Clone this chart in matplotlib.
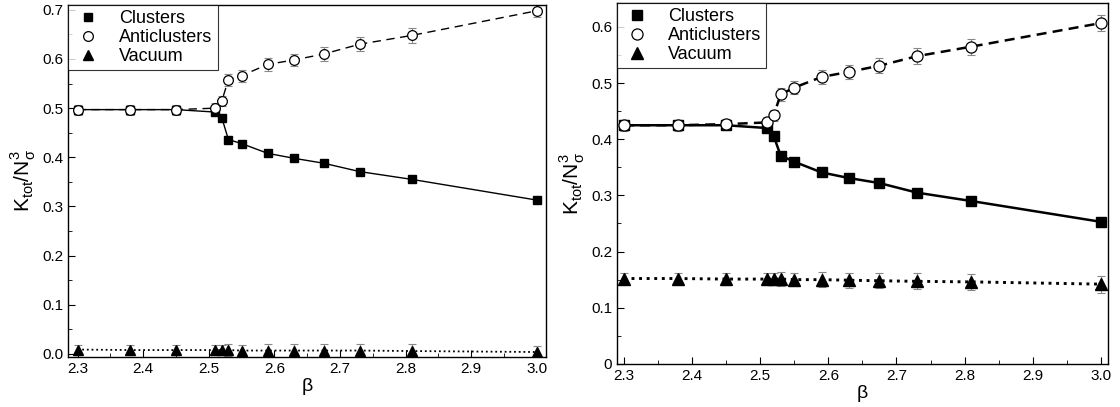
import numpy as np
import matplotlib
matplotlib.use("Agg")
import matplotlib.pyplot as plt
from matplotlib.ticker import MultipleLocator, FormatStrFormatter

plt.rcParams['font.family'] = ['Liberation Sans', 'DejaVu Sans']

# beta values (same for both panels)
beta = [2.30, 2.38, 2.45, 2.51, 2.52, 2.53, 2.55, 2.59, 2.63, 2.675, 2.73, 2.81, 3.00]

# left panel
left_clusters = [0.497, 0.497, 0.497, 0.492, 0.480, 0.436, 0.428, 0.408, 0.398, 0.388, 0.371, 0.355, 0.313]
left_anti = [0.497, 0.497, 0.497, 0.500, 0.515, 0.558, 0.566, 0.589, 0.598, 0.610, 0.630, 0.648, 0.698]
left_vac = [0.009, 0.008, 0.008, 0.008, 0.008, 0.008, 0.007, 0.007, 0.007, 0.007, 0.007, 0.006, 0.004]
left_err = [0.010, 0.010, 0.010, 0.010, 0.010, 0.012, 0.012, 0.013, 0.013, 0.014, 0.014, 0.015, 0.012]

# right panel
right_clusters = [0.425, 0.425, 0.425, 0.420, 0.405, 0.371, 0.360, 0.341, 0.331, 0.322, 0.305, 0.290, 0.253]
right_anti = [0.425, 0.425, 0.427, 0.430, 0.443, 0.480, 0.492, 0.511, 0.520, 0.531, 0.548, 0.565, 0.607]
right_vac = [0.152, 0.152, 0.151, 0.151, 0.151, 0.151, 0.150, 0.150, 0.149, 0.148, 0.147, 0.146, 0.142]
right_err = [0.010, 0.010, 0.010, 0.010, 0.010, 0.012, 0.012, 0.013, 0.013, 0.013, 0.014, 0.014, 0.015]

fig = plt.figure(figsize=(11.2, 4.07), dpi=100)
ax1 = fig.add_axes([0.061, 0.123, 0.4265, 0.865])
ax2 = fig.add_axes([0.551, 0.106, 0.438, 0.887])

ecol = '#888888'

def panel(ax, cl, an, va, err, lw, ms_sq, ms_c, dash):
    ax.errorbar(beta, an, yerr=err, fmt='none', ecolor=ecol, elinewidth=0.8, capsize=3, capthick=0.8, zorder=1)
    ax.errorbar(beta, va, yerr=err, fmt='none', ecolor=ecol, elinewidth=0.8, capsize=3, capthick=0.8, zorder=1)
    ax.plot(beta, cl, '-', color='black', lw=lw, marker='s', ms=ms_sq, mfc='black', mec='black', label='Clusters', zorder=3)
    ax.plot(beta, an, color='black', lw=lw, ls=(0, dash), marker='o', ms=ms_c, mfc='white', mec='black', mew=0.9, label='Anticlusters', zorder=4)
    ax.plot(beta, va, color='black', lw=lw + 0.3, ls=(0, (1, 1.6)), marker='^', ms=ms_sq + 1, mfc='black', mec='black', label='Vacuum', zorder=3)
    ax.xaxis.set_major_locator(MultipleLocator(0.1))
    ax.xaxis.set_minor_locator(MultipleLocator(0.05))
    ax.yaxis.set_major_locator(MultipleLocator(0.1))
    ax.yaxis.set_minor_locator(MultipleLocator(0.05))
    ax.xaxis.set_major_formatter(FormatStrFormatter('%.1f'))
    ax.tick_params(which='both', direction='in', top=False, right=False, labelsize=11)
    ax.tick_params(which='major', length=5)
    ax.tick_params(which='minor', length=3)
    ax.set_xlabel(r'$\mathregular{\beta}$', fontsize=14, labelpad=0)
    ax.set_ylabel(r'K$_{\mathregular{tot}}$/N$_{\mathregular{\sigma}}^{\mathregular{3}}$', fontsize=15, labelpad=3)
    leg = ax.legend(loc='upper left', fontsize=13, frameon=True, fancybox=False, edgecolor='black',
                    borderaxespad=0, handlelength=1.6, handletextpad=0.9, labelspacing=0.1, borderpad=0.3)
    leg.get_frame().set_linewidth(0.8)
    for h in leg.legend_handles:
        h.set_linestyle('none')
    for s in ax.spines.values():
        s.set_linewidth(1.0)

panel(ax1, left_clusters, left_anti, left_vac, left_err, 1.0, 6, 7, (6, 4))
ax1.set_xlim(2.286, 3.014)
ax1.set_ylim(-0.006, 0.71)
ax1.yaxis.set_major_formatter(FormatStrFormatter('%.1f'))

panel(ax2, right_clusters, right_anti, right_vac, right_err, 1.8, 7, 8, (4, 2.5))
ax2.set_xlim(2.29, 3.01)
ax2.set_ylim(0, 0.643)
ax2.set_yticks([0, 0.1, 0.2, 0.3, 0.4, 0.5, 0.6])
ax2.set_yticklabels(['0', '0.1', '0.2', '0.3', '0.4', '0.5', '0.6'])

fig.savefig('out.png', dpi=100)
